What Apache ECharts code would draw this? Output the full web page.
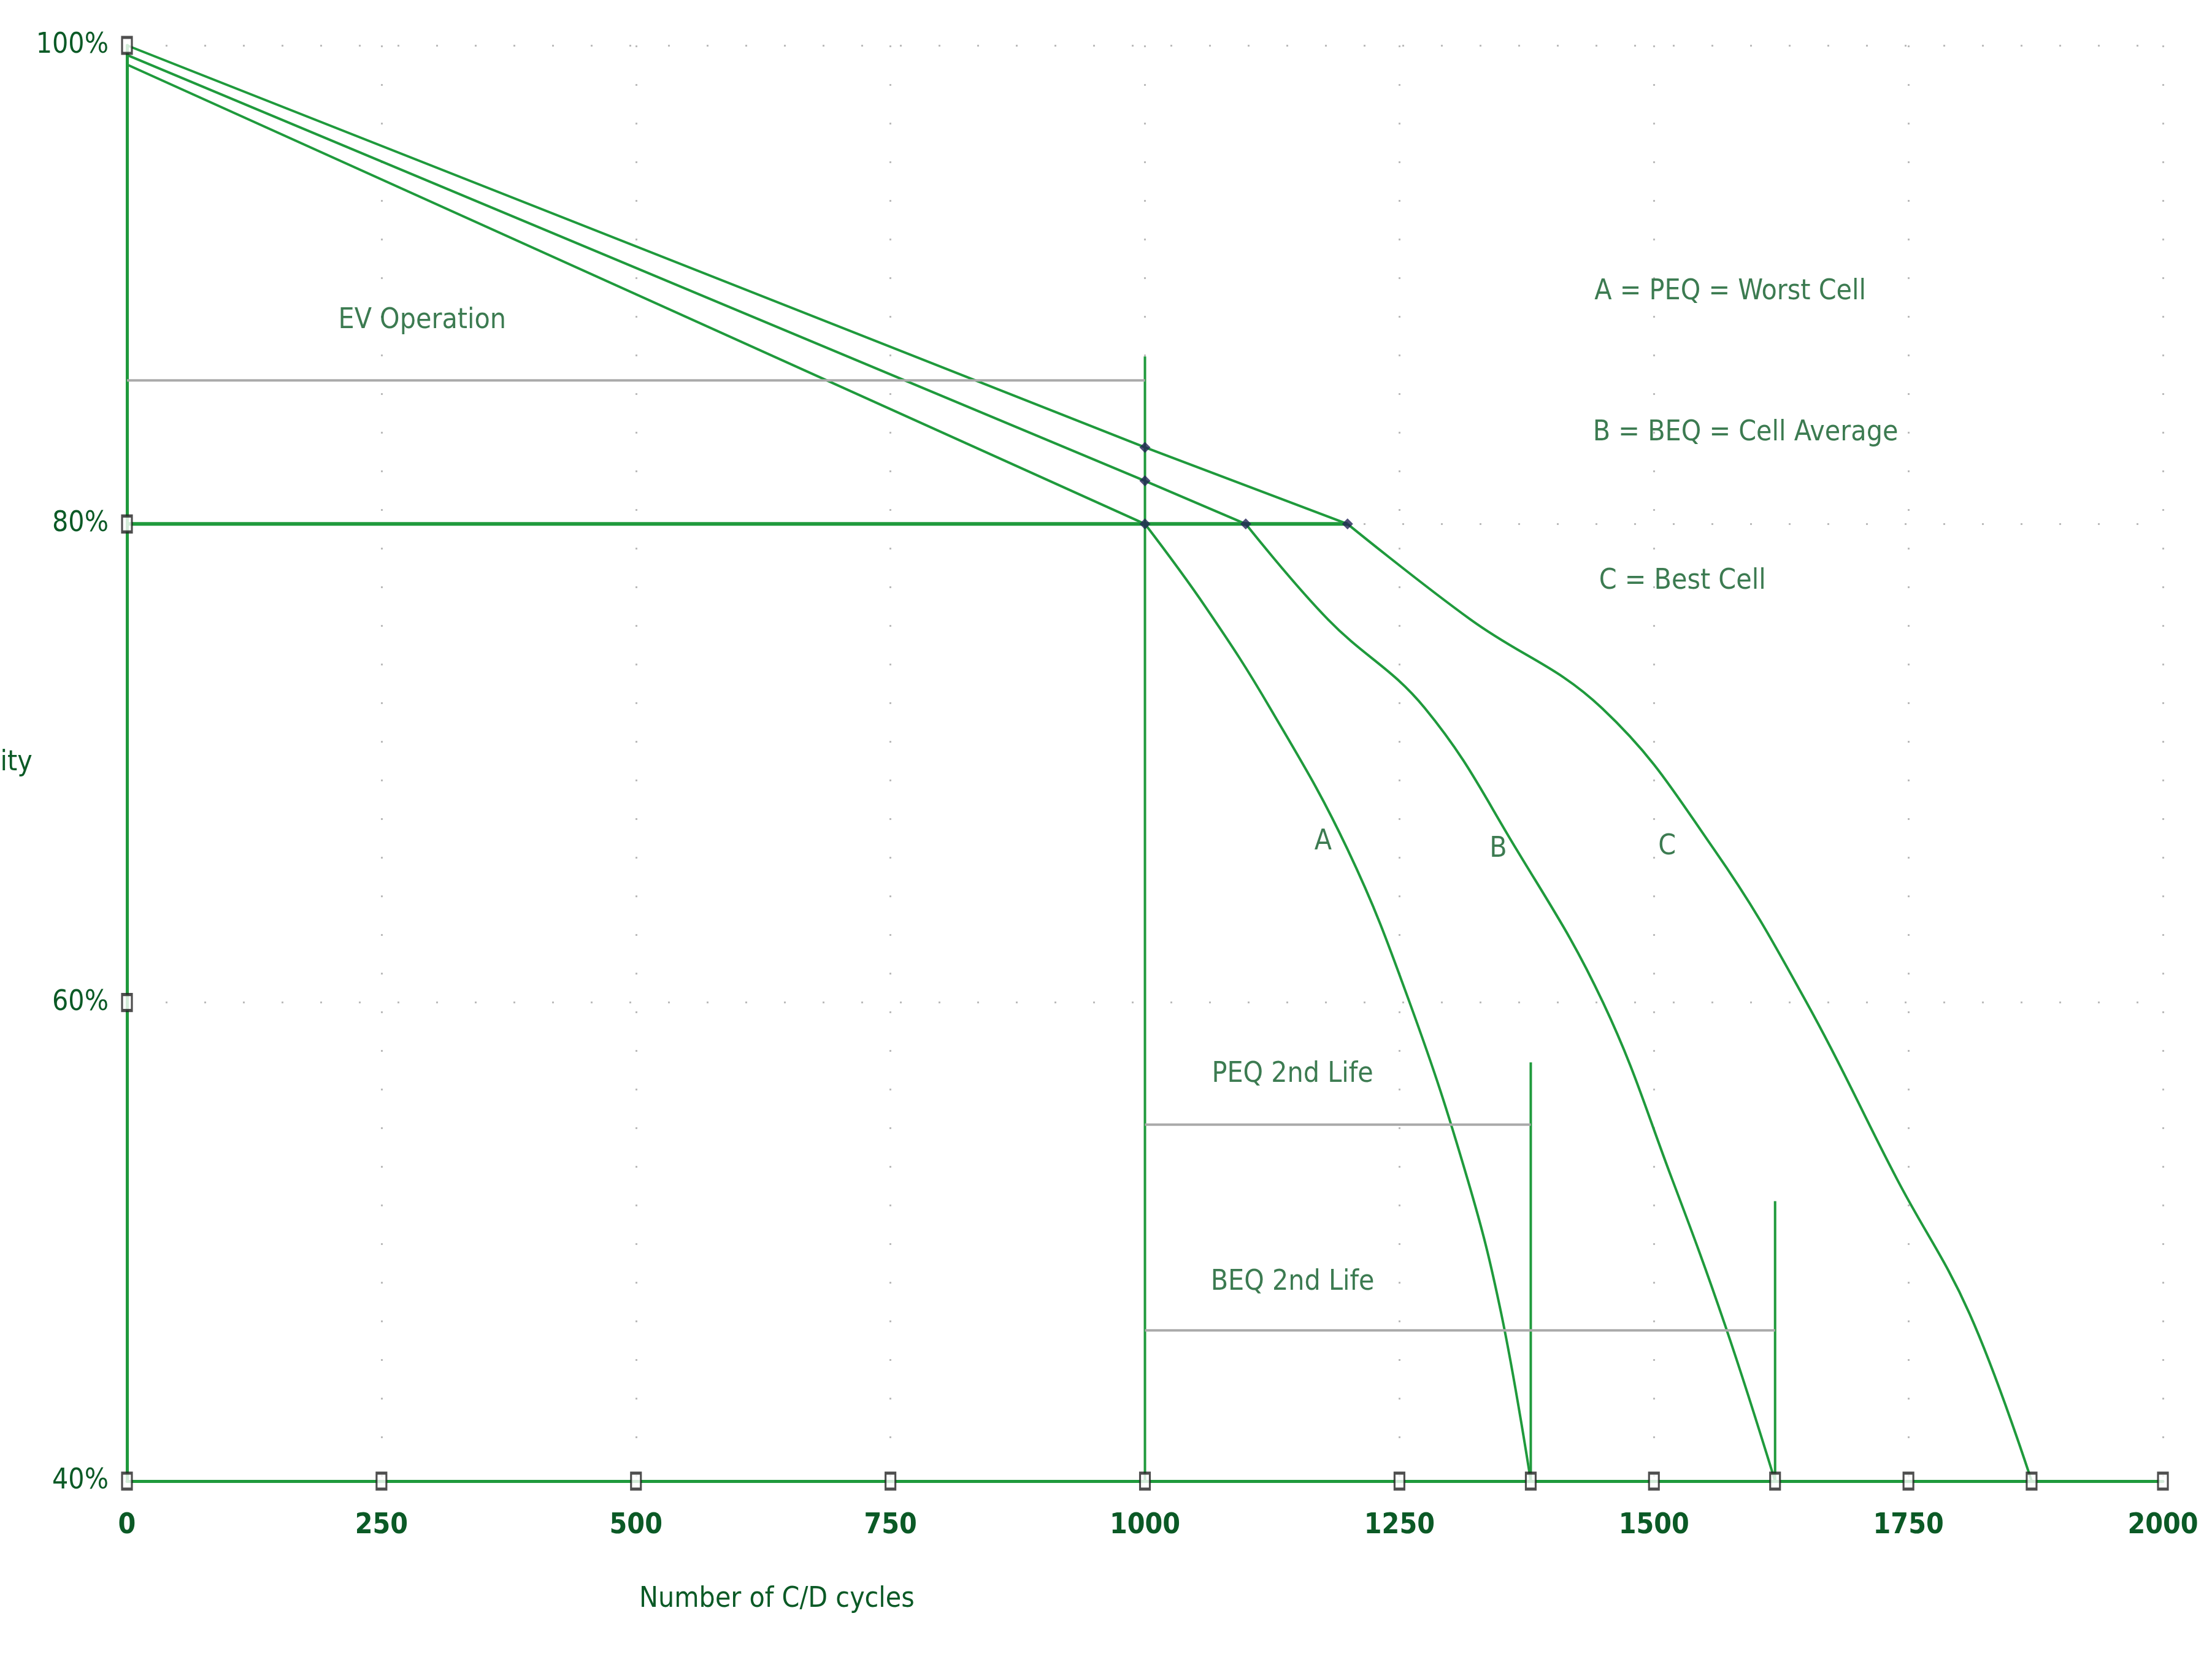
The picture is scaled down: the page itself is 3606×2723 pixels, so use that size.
<!DOCTYPE html>
<html>
<head>
<meta charset="utf-8">
<script src="https://cdn.jsdelivr.net/npm/echarts@6/dist/echarts.min.js"></script>
<style>html,body{margin:0;background:#fff}#c{width:3606px;height:2723px}</style>
</head>
<body>
<div id="c"></div>
<script>
// 读图得到的数据：直线段 + 曲线段
var lineA = [[0,99.2],[1000,80]];
var lineB = [[0,99.6],[1000,81.8],[1099,80]];
var lineC = [[0,100],[1000,83.2],[1199,80]];
var curveA = [[1000,80],[1060,76.5],[1123,72.3],[1199,66.4],[1260,60],[1317,52.6],[1350,47],[1379,40]];
var curveB = [[1099,80],[1180,76],[1275,72.3],[1365,66.4],[1450,60],[1518,52.6],[1570,46.5],[1619,40]];
var curveC = [[1199,80],[1320,76],[1449,72.3],[1559,66.4],[1650,60],[1739,52.6],[1810,47],[1871,40]];
var xTicks = [0,250,500,750,1000,1250,1500,1750,2000];
var yTicks = [100,80,60];
var endPts = [[1379,40],[1619,40],[1871,40]];
var knees = [[1000,80],[1000,81.8],[1000,83.2],[1099,80],[1199,80]];

var green = '#1f9a3c';
var txt = '#0b5a26';
var font = '"DejaVu Sans Condensed","DejaVu Sans",sans-serif';

function seg(data, color, w, smooth){
	return {type:'line', data:data, symbol:'none', smooth:smooth||false, lineStyle:{color:color, width:w||4}, silent:true, z:3};
}
function label(x, y, s){
	return {type:'scatter', data:[[x,y]], symbolSize:0, silent:true,
		label:{show:true, formatter:s, color:txt, fontSize:46, fontFamily:font, position:'inside'}};
}

var chart = echarts.init(document.getElementById('c'));
chart.setOption({
	backgroundColor:'#fff',
	animation:false,
	grid:{left:207, right:80, top:74, bottom:308, containLabel:false, outerBoundsMode:'none'},
	xAxis:{type:'value', min:0, max:2000, interval:250,
		axisLine:{lineStyle:{color:green, width:5}}, axisTick:{show:false},
		axisLabel:{color:txt, fontSize:46, fontFamily:font, margin:50, fontWeight:'bold', formatter:function(v){return String(v);}},
		splitLine:{show:true, lineStyle:{color:'#bbb', type:[3,60], width:3}},
		name:'Number of C/D cycles', nameLocation:'middle', nameGap:170,
		nameTextStyle:{color:txt, fontSize:46, fontFamily:font, padding:[0,1200,0,0]}},
	yAxis:{type:'value', min:40, max:100, interval:20,
		axisLine:{show:true, lineStyle:{color:green, width:5}}, axisTick:{show:false},
		axisLabel:{color:txt, fontSize:46, fontFamily:font, margin:30, formatter:'{value}%'},
		splitLine:{show:true, lineStyle:{color:'#bbb', type:[3,60], width:3}},
		name:'Capacity', nameLocation:'middle', nameGap:110, nameRotate:0,
		nameTextStyle:{color:txt, fontSize:46, fontFamily:font}},
	series:[
		seg(lineA, green), seg(lineB, green), seg(lineC, green),
		seg(curveA, green, 4, 0.4),
		seg(curveB, green, 4, 0.4),
		seg(curveC, green, 4, 0.4),
		seg([[0,80],[1199,80]], green, 6),
		seg([[1000,40],[1000,87]], green),
		seg([[1379,40],[1379,57.5]], green),
		seg([[1619,40],[1619,51.7]], green),
		seg([[0,86],[1000,86]], '#aaa', 4),
		seg([[1000,54.9],[1379,54.9]], '#aaa', 4),
		seg([[1000,46.3],[1619,46.3]], '#aaa', 4),
		{type:'scatter', data:xTicks.map(function(v){return [v,40];}).concat(yTicks.map(function(v){return [0,v];})).concat(endPts),
			symbol:'rect', symbolSize:[16,26], itemStyle:{color:'#fff', borderColor:'#222', borderWidth:4}, silent:true, z:5},
		{type:'scatter', data:knees, symbol:'diamond', symbolSize:18, itemStyle:{color:'#225'}, silent:true, z:5},
		label(290, 88.5, 'EV Operation'),
		label(1145, 57, 'PEQ 2nd Life'),
		label(1145, 48.3, 'BEQ 2nd Life'),
		label(1175, 66.7, 'A'),
		label(1347, 66.4, 'B'),
		label(1513, 66.5, 'C'),
		label(1575, 89.7, 'A = PEQ = Worst Cell'),
		label(1590, 83.8, 'B = BEQ = Cell Average'),
		label(1528, 77.6, 'C = Best Cell')
	]
});
</script>
</body>
</html>
